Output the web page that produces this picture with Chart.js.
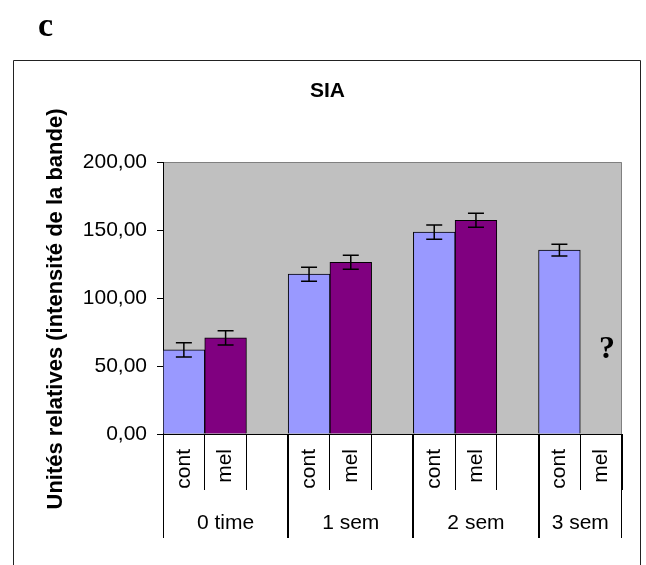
<!DOCTYPE html>
<html>
<head>
<meta charset="utf-8">
<script src="https://cdn.jsdelivr.net/npm/chart.js@4/dist/chart.umd.min.js"></script>
<style>
  body { margin: 0; background: #ffffff; }
  canvas { display: block; }
</style>
</head>
<body>
<canvas id="siaChart" width="646" height="565"></canvas>
<script>
// Data
const groups = ['0 time', '1 sem', '2 sem', '3 sem'];
const slotLabels = ['cont', 'mel', '', 'cont', 'mel', '', 'cont', 'mel', '', 'cont', 'mel'];
const contValues = [61.9, 117.5, 148.4, 135.2];
const contErrors = [5.2, 5.2, 5.2, 4.4];
const melValues = [70.7, 126.3, 157.2, null];
const melErrors = [5.2, 5.2, 5.2, null];
const yTicks = [0, 50, 100, 150, 200];

const FONT = 'Liberation Sans, Arial, sans-serif';

// spread the group values onto the 11 category slots
function toSlots(values, offset) {
    const out = slotLabels.map(() => null);
    values.forEach((v, g) => { out[g * 3 + offset] = v; });
    return out;
}

// first slot of each group, and the slot after its end
const groupStart = groups.map((g, i) => i * 3);
const groupEnd = groups.map((g, i) => Math.min(i * 3 + 3, slotLabels.length));

// Error bars drawn through the y scale
const errorBars = {
    id: 'errorBars',
    afterDatasetsDraw(chart) {
        const { ctx, scales: { y } } = chart;
        const errs = [toSlots(contErrors, 0), toSlots(melErrors, 1)];
        ctx.save();
        ctx.strokeStyle = '#000000';
        ctx.lineWidth = 1.5;
        chart.data.datasets.forEach((ds, di) => {
            const meta = chart.getDatasetMeta(di);
            meta.data.forEach((bar, i) => {
                const v = ds.data[i];
                const e = errs[di][i];
                if (v == null || e == null) return;
                const top = y.getPixelForValue(v + e);
                const bot = y.getPixelForValue(v - e);
                ctx.beginPath();
                ctx.moveTo(bar.x, top); ctx.lineTo(bar.x, bot);
                ctx.moveTo(bar.x - 8, top); ctx.lineTo(bar.x + 8, top);
                ctx.moveTo(bar.x - 8, bot); ctx.lineTo(bar.x + 8, bot);
                ctx.stroke();
            });
        });
        ctx.restore();
    }
};

// Frame, grey plot area, titles and the group row under the axis
const decorations = {
    id: 'decorations',
    beforeDraw(chart) {
        const { ctx, chartArea: a } = chart;
        ctx.save();
        ctx.fillStyle = '#ffffff';
        ctx.fillRect(0, 0, chart.width, chart.height);
        ctx.strokeStyle = '#222222';
        ctx.lineWidth = 1;
        ctx.beginPath();
        ctx.moveTo(13.5, 600); ctx.lineTo(13.5, 60.5);
        ctx.lineTo(640.5, 60.5); ctx.lineTo(640.5, 600);
        ctx.stroke();
        ctx.fillStyle = '#c0c0c0';
        ctx.fillRect(a.left, a.top, a.right - a.left, a.bottom - a.top);
        ctx.strokeStyle = '#808080';
        ctx.beginPath();
        ctx.moveTo(a.left, a.top + 0.5); ctx.lineTo(a.right - 0.5, a.top + 0.5);
        ctx.lineTo(a.right - 0.5, a.bottom);
        ctx.stroke();
        ctx.restore();
    },
    afterDraw(chart) {
        const { ctx, chartArea: a, scales: { x } } = chart;
        ctx.save();
        ctx.fillStyle = '#000000';

        ctx.font = 'bold 34px "Liberation Serif", "Times New Roman", serif';
        ctx.textAlign = 'left';
        ctx.textBaseline = 'alphabetic';
        ctx.fillText('c', 38, 36);

        ctx.font = 'bold 21px ' + FONT;
        ctx.textAlign = 'center';
        ctx.fillText('SIA', 327.5, 96.5);

        ctx.save();
        ctx.font = 'bold 22px ' + FONT;
        ctx.translate(62, 309);
        ctx.rotate(-Math.PI / 2);
        ctx.fillText('Unités relatives (intensité de la bande)', 0, 0);
        ctx.restore();

        ctx.font = 'bold 32px "Liberation Serif", "Times New Roman", serif';
        ctx.fillText('?', 607, 358);

        // group separators and labels
        const half = (x.getPixelForValue(1) - x.getPixelForValue(0)) / 2;
        ctx.strokeStyle = '#000000';
        ctx.lineWidth = 1;
        ctx.font = '21px ' + FONT;
        groups.forEach((g, i) => {
            const left = x.getPixelForValue(groupStart[i]) - half;
            const right = x.getPixelForValue(groupEnd[i] - 1) + half;
            ctx.beginPath();
            ctx.moveTo(Math.round(left) + 0.5, a.bottom);
            ctx.lineTo(Math.round(left) + 0.5, 538);
            ctx.moveTo(Math.round(right) - 0.5, a.bottom);
            ctx.lineTo(Math.round(right) - 0.5, 538);
            ctx.stroke();
            ctx.fillText(g, (left + right) / 2, 528.5);
        });
        ctx.restore();
    }
};

new Chart(document.getElementById('siaChart'), {
    type: 'bar',
    data: {
        labels: slotLabels,
        datasets: [{
            label: 'cont',
            data: toSlots(contValues, 0),
            backgroundColor: '#9999ff',
            borderColor: '#000000',
            borderWidth: 1,
            grouped: false,
            categoryPercentage: 1,
            barPercentage: 1
        }, {
            label: 'mel',
            data: toSlots(melValues, 1),
            backgroundColor: '#800080',
            borderColor: '#000000',
            borderWidth: 1,
            grouped: false,
            categoryPercentage: 1,
            barPercentage: 1
        }]
    },
    options: {
        responsive: false,
        animation: false,
        layout: {
            padding: { left: 13, top: 162, right: 24, bottom: 0 }
        },
        plugins: {
            legend: { display: false },
            tooltip: { enabled: false }
        },
        scales: {
            x: {
                afterFit: (scale) => { scale.height = 131; },
                border: { color: '#000000', width: 1 },
                grid: {
                    offset: true,
                    drawOnChartArea: false,
                    drawTicks: true,
                    tickLength: 56,
                    color: '#000000'
                },
                ticks: {
                    autoSkip: false,
                    minRotation: 90,
                    maxRotation: 90,
                    padding: -41,
                    color: '#000000',
                    font: { family: FONT, size: 21 }
                }
            },
            y: {
                min: yTicks[0],
                max: yTicks[yTicks.length - 1],
                afterFit: (scale) => { scale.width = 150; },
                afterBuildTicks: (scale) => {
                    scale.ticks = yTicks.map(v => ({ value: v }));
                },
                border: { color: '#000000', width: 1 },
                grid: {
                    drawOnChartArea: false,
                    drawTicks: true,
                    tickLength: 6,
                    color: '#000000'
                },
                ticks: {
                    padding: 10,
                    color: '#000000',
                    font: { family: FONT, size: 21 },
                    callback: (v) => v.toFixed(2).replace('.', ',')
                }
            }
        }
    },
    plugins: [decorations, errorBars]
});
</script>
</body>
</html>
